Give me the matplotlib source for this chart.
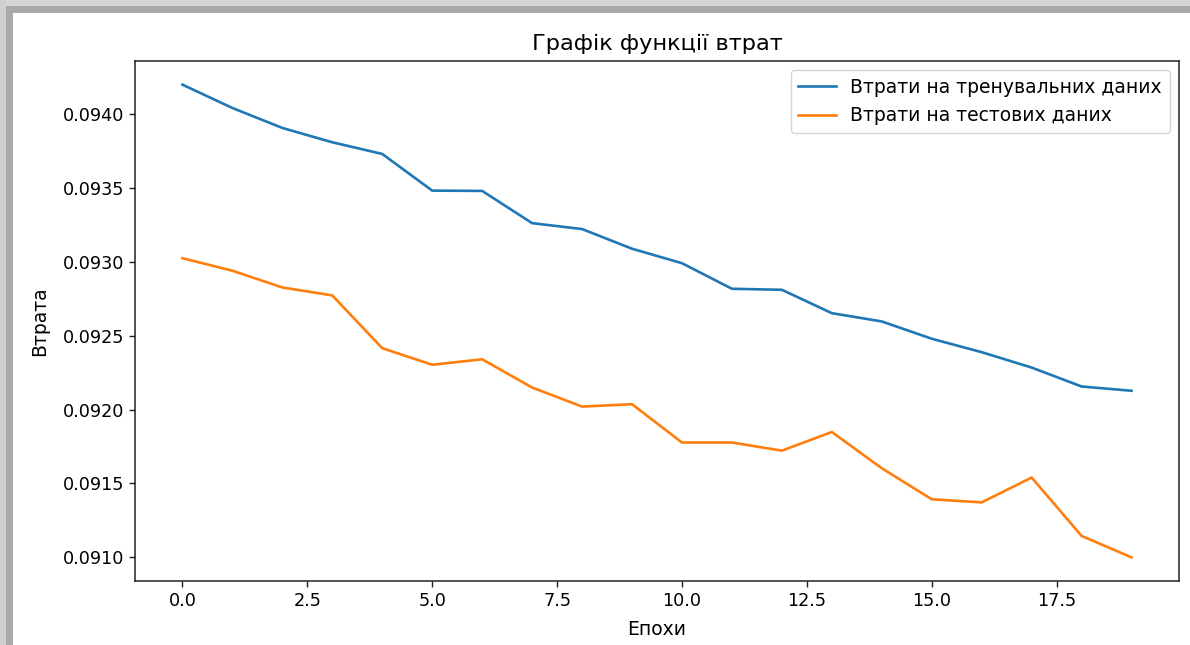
import matplotlib
matplotlib.use('Agg')
import matplotlib.pyplot as plt
from matplotlib.patches import Rectangle
from matplotlib.ticker import FormatStrFormatter

# values
epochs = list(range(20))
train_loss = [0.094198, 0.094040, 0.093905, 0.093808, 0.093729,
              0.093481, 0.093479, 0.093261, 0.093221, 0.093088,
              0.092990, 0.092817, 0.092810, 0.092652, 0.092596,
              0.092479, 0.092388, 0.092284, 0.092156, 0.092127]
test_loss = [0.093024, 0.092939, 0.092826, 0.092772, 0.092415,
             0.092303, 0.092340, 0.092149, 0.092020, 0.092036,
             0.091777, 0.091777, 0.091722, 0.091848, 0.091603,
             0.091393, 0.091372, 0.091540, 0.091145, 0.091000]

title = 'Графік функції втрат'
xlabel = 'Епохи'
ylabel = 'Втрата'
labels = ['Втрати на тренувальних даних', 'Втрати на тестових даних']

fig = plt.figure(figsize=(11.9, 6.45), dpi=100)
fig.patch.set_facecolor('#a9a9a9')
# screenshot frame: grey shadow on top/left, white page
fig.patches.append(Rectangle((0, 1 - 6 / 645), 1, 6 / 645, transform=fig.transFigure,
                             facecolor='#d6d6d6', edgecolor='none', zorder=-3))
fig.patches.append(Rectangle((0, 0), 6 / 1190, 1, transform=fig.transFigure,
                             facecolor='#cfcfcf', edgecolor='none', zorder=-2))
fig.patches.append(Rectangle((13 / 1190, 0), 1, 1 - 13 / 645, transform=fig.transFigure,
                             facecolor='white', edgecolor='none', zorder=-1))

ax = fig.add_axes([135 / 1190, 1 - 581 / 645, 1044 / 1190, 520 / 645])
ax.plot(epochs, train_loss, color='#1f77b4', lw=1.9, label=labels[0])
ax.plot(epochs, test_loss, color='#ff7f0e', lw=1.9, label=labels[1])

ax.set_title(title, fontsize=16.2, pad=8)
ax.set_xlabel(xlabel, fontsize=13.5, labelpad=7)
ax.set_ylabel(ylabel, fontsize=13.5, labelpad=10)
ax.yaxis.set_major_formatter(FormatStrFormatter('%.4f'))
ax.tick_params(labelsize=12.7, length=4.4, width=1.0, colors='#222222', labelcolor='black')
for s in ax.spines.values():
    s.set_linewidth(1.1)
    s.set_color('#222222')

ax.legend(loc='upper right', fontsize=13.5, framealpha=0.8, edgecolor='#cccccc')

fig.savefig('out.png', dpi=100, facecolor=fig.get_facecolor())
